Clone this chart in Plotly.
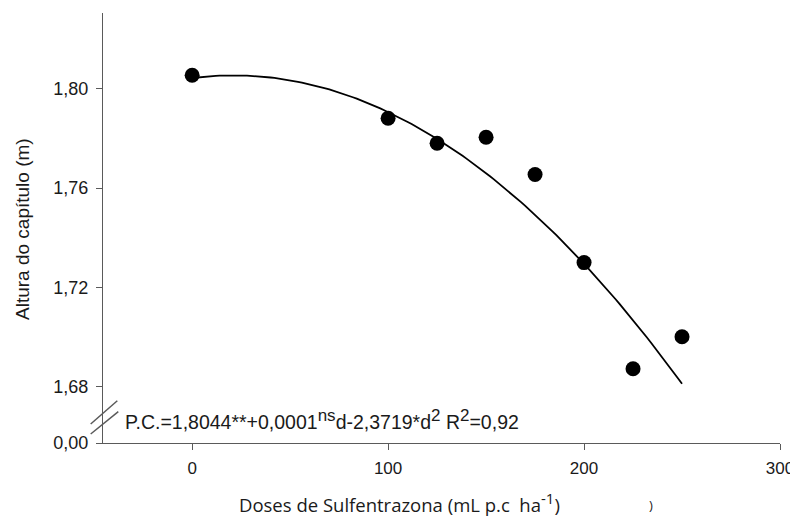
import plotly.graph_objects as go

# ---- data ----
doses = [0, 100, 125, 150, 175, 200, 225, 250]
altura = [1.8055, 1.7882, 1.7781, 1.7805, 1.7655, 1.7300, 1.6872, 1.7001]

# fitted quadratic (coefficients from the chart's equation, d^2 term in 1e-6 units)
b0, b1, b2 = 1.8044, 0.0001, -2.3719e-6
curve_x = list(range(0, 251, 2))
curve_y = [b0 + b1 * d + b2 * d * d for d in curve_x]

x_ticks = [0, 100, 200, 300]
y_tick_vals = [1.68, 1.72, 1.76, 1.80]
y_tick_text = ["1,68", "1,72", "1,76", "1,80"]
break_val = 1.6573          # position on the axis where the "0,00" label sits
break_label = "0,00"

# ---- layout geometry (pixels); page body adds an 8px offset ----
OFF = 8
W, H = 798 - OFF, 516 - OFF
L, R, T, B = 103 - OFF, 18, 13 - OFF, 73
pw, ph = W - L - R, H - T - B

def px(xp):   # reference-image pixel -> paper x
    return (xp - OFF - L) / pw

def py(yp):   # reference-image pixel -> paper y
    return (H - B - (yp - OFF)) / ph

axis_col = "#5a5a5a"
txt_col = "#1a1a1a"

def sup(t, size):
    return f'<sup><span style="font-size:{size}px">{t}</span></sup>'

fig = go.Figure()
fig.add_trace(go.Scatter(x=curve_x, y=curve_y, mode="lines",
                         line=dict(color="black", width=1.8), hoverinfo="skip"))
fig.add_trace(go.Scatter(x=doses, y=altura, mode="markers",
                         marker=dict(color="black", size=15)))

fig.update_layout(
    width=W, height=H, showlegend=False,
    margin=dict(l=L, r=R, t=T, b=B),
    plot_bgcolor="white", paper_bgcolor="white",
    font=dict(family="Liberation Sans, Arial", color=txt_col, size=17),
    xaxis=dict(range=[-45.5, 300], tickvals=x_ticks, showgrid=False, zeroline=False,
               showline=True, linecolor=axis_col, linewidth=1.2,
               ticks="outside", ticklen=6, tickcolor=axis_col, tickwidth=1.2,
               tickfont=dict(size=17), ticklabelstandoff=3),
    yaxis=dict(range=[break_val, 1.8306], tickvals=[break_val] + y_tick_vals,
               ticktext=[break_label] + y_tick_text, showgrid=False, zeroline=False,
               showline=True, linecolor=axis_col, linewidth=1.2,
               ticks="outside", ticklen=6, tickcolor=axis_col, tickwidth=1.2,
               tickfont=dict(size=18), ticklabelstandoff=4),
)

# axis break marks
for (x0, y0, x1, y1) in [(90.7, 424, 117.3, 400.7), (90.7, 434, 118.3, 411.7)]:
    fig.add_shape(type="line", xref="paper", yref="paper",
                  x0=px(x0), y0=py(y0), x1=px(x1), y1=py(y1),
                  line=dict(color=axis_col, width=1.5))

# equation
eq = ("P.C.=1,8044**+0,0001" + sup("ns", 17) + "d-2,3719*d" + sup("2", 17)
      + " R" + sup("2", 17) + "=0,92")
fig.add_annotation(xref="paper", yref="paper", x=px(123), y=py(419),
                   xanchor="left", yanchor="middle", showarrow=False, text=eq,
                   font=dict(size=19.5, family="Liberation Sans, Arial", color=txt_col))

# axis titles
fig.add_annotation(xref="paper", yref="paper", x=px(22), y=py(229),
                   xanchor="center", yanchor="middle", showarrow=False, textangle=-90,
                   text="Altura do capítulo (m)",
                   font=dict(size=19, family="Liberation Sans, Arial", color=txt_col))
fig.add_annotation(xref="paper", yref="paper", x=px(237), y=py(502),
                   xanchor="left", yanchor="middle", showarrow=False,
                   text="Doses de Sulfentrazona (mL p.c  ha" + sup("-1", 15) + ")",
                   font=dict(size=18.5, family="Open Sans", color=txt_col))
fig.add_annotation(xref="paper", yref="paper", x=px(651), y=py(505),
                   xanchor="center", yanchor="middle", showarrow=False,
                   text=")", font=dict(size=13, family="Open Sans", color=txt_col))

fig.write_html("out.html")
